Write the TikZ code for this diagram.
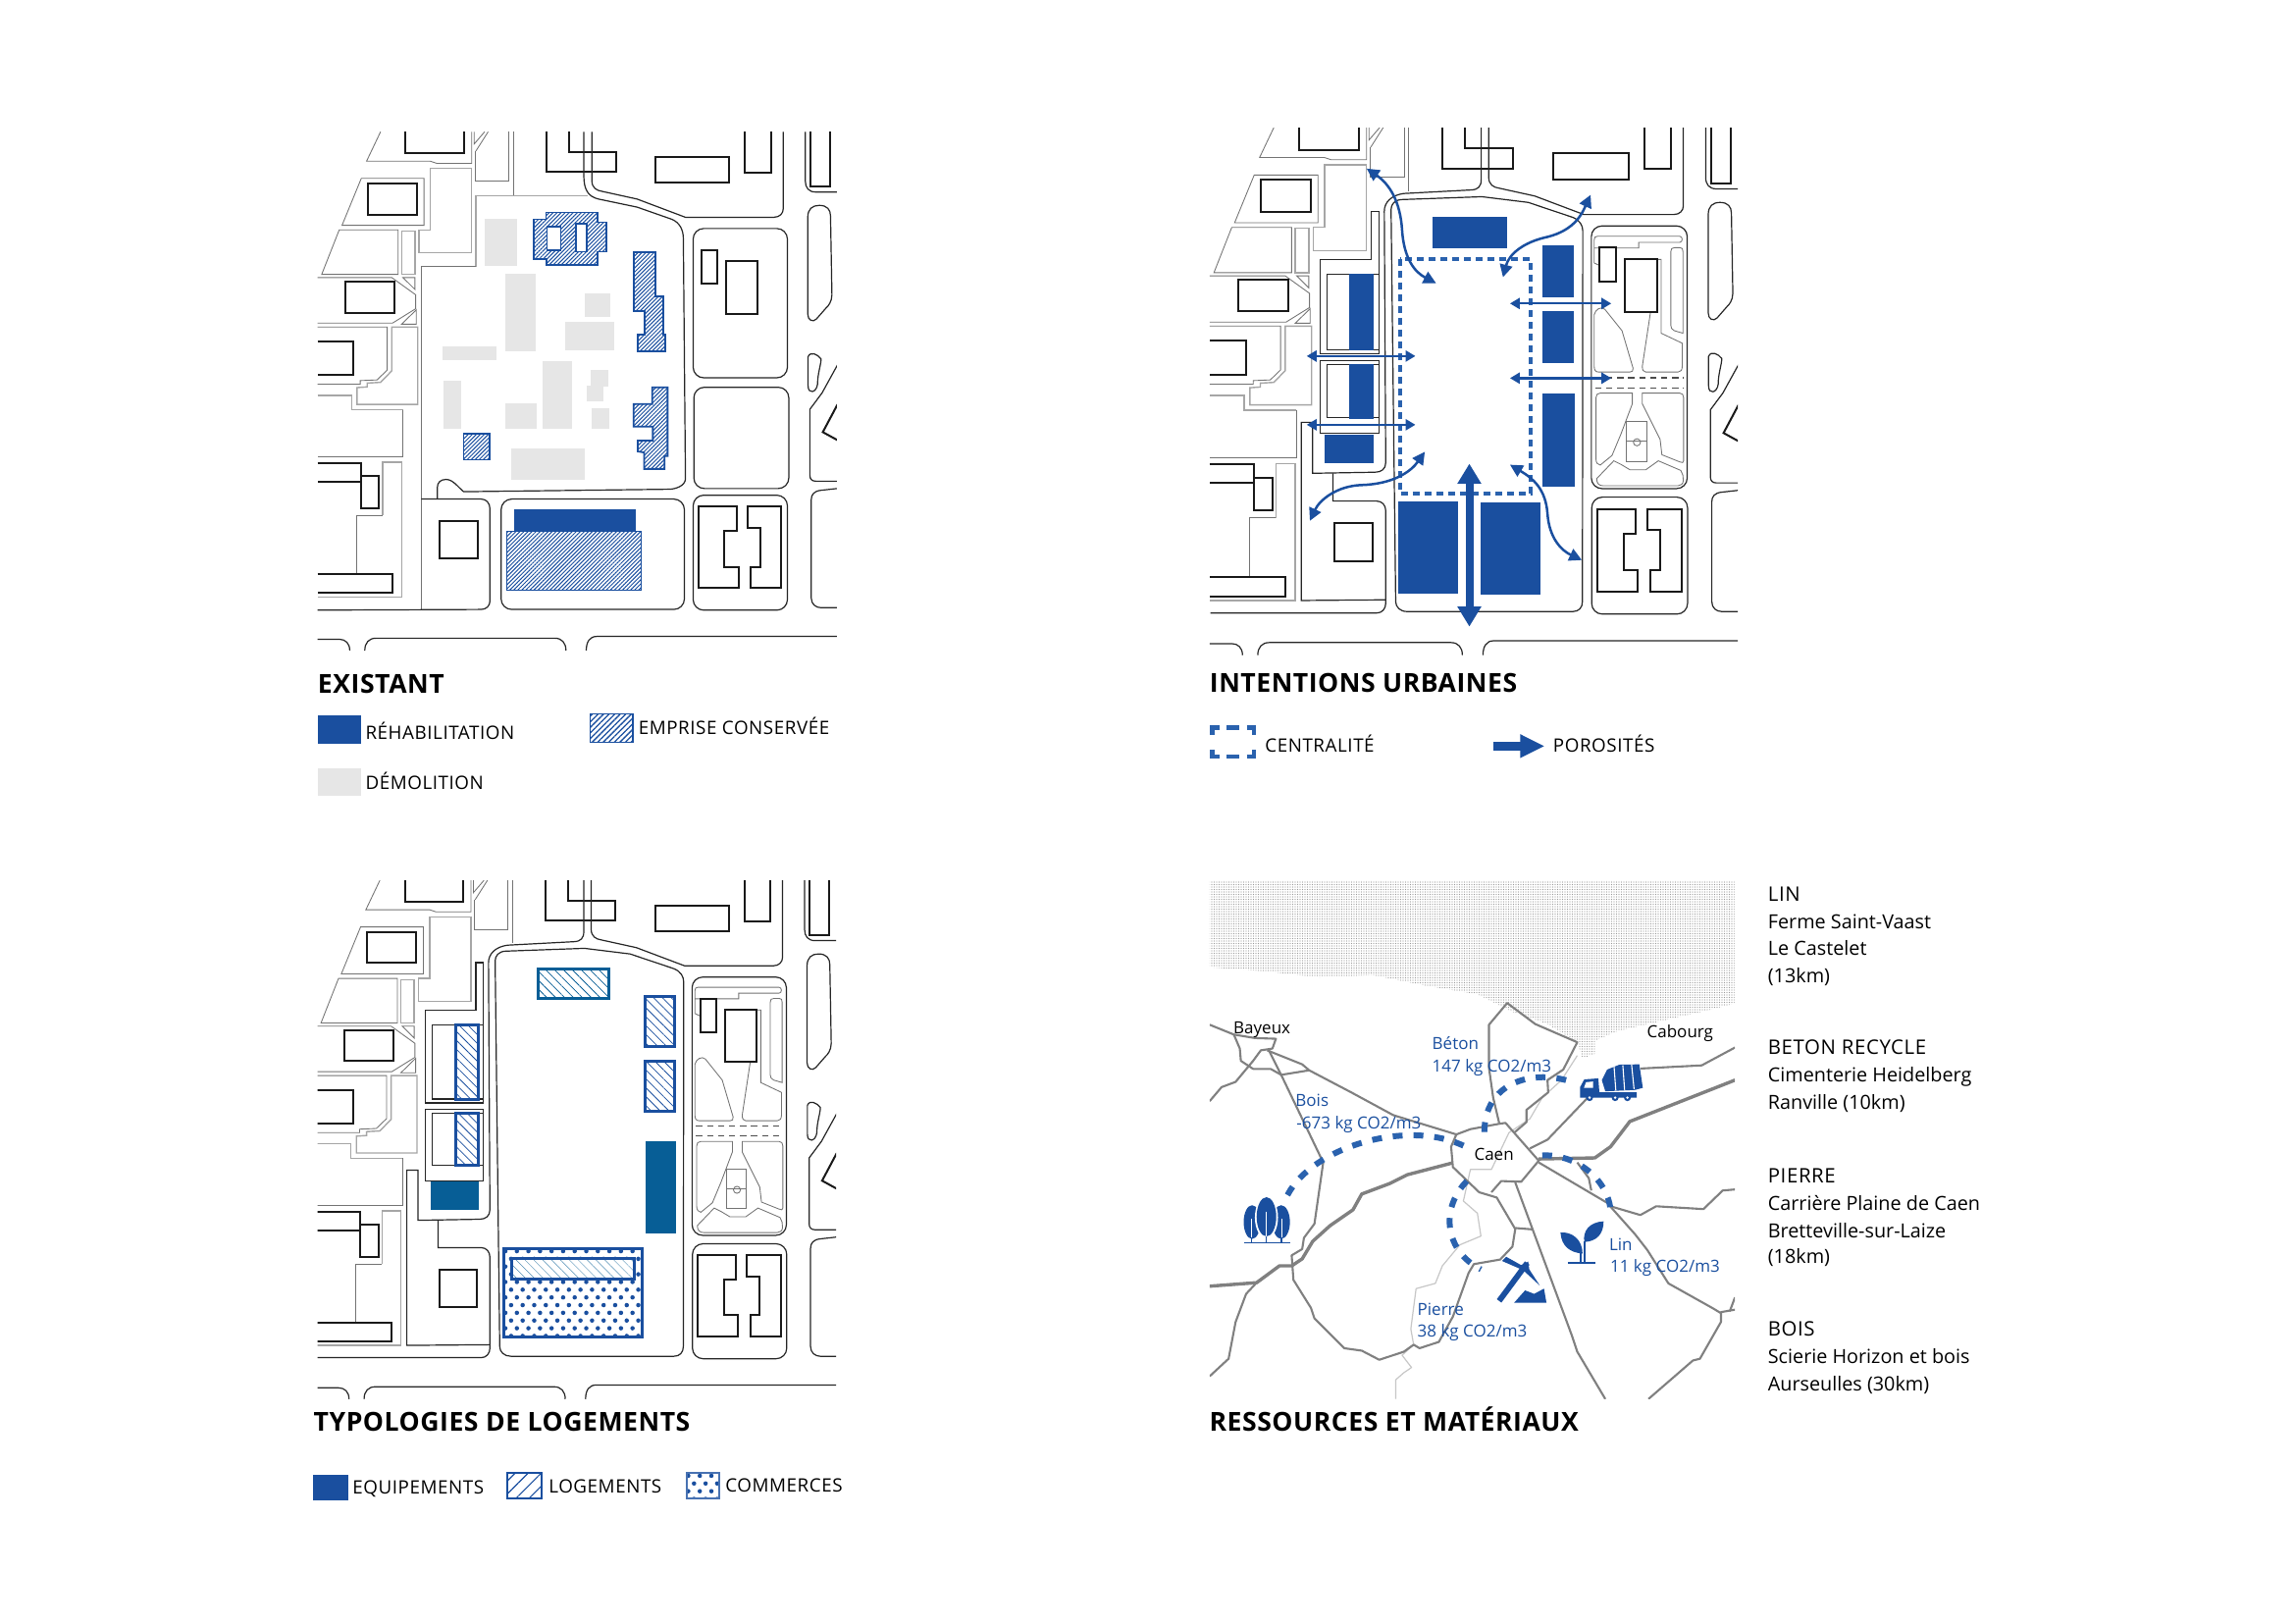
\documentclass[tikz,border=0pt]{standalone}
\usepackage{fontspec}
\usetikzlibrary{arrows.meta,patterns.meta}
\setmainfont{Open Sans}
\newfontfamily\capsfont[LetterSpace=3]{Open Sans}
\newfontfamily\headfont[LetterSpace=2]{Open Sans}
\definecolor{bleu}{HTML}{1A4F9F}
\definecolor{bleub}{HTML}{2A62AE}
\definecolor{sarc}{HTML}{075E96}
\definecolor{demo}{HTML}{E6E6E6}
\definecolor{rte}{HTML}{808080}
\tikzset{
 zoomunit/.style={x=0.17857pt,y=-0.17857pt},
 bld/.style={draw=black!90,line width=1pt,line join=miter},
 rd/.style={draw=black!85,line width=.6pt},
 gt/.style={draw=black!55,line width=.43pt},
 gl/.style={draw=black!35,line width=.7pt},
 demorect/.style={fill=demo,draw=none},
 hatchf/.style={draw=bleu,line width=.9pt,pattern={Lines[angle=45,distance=1.45pt,line width=.5pt]},pattern color=bleu},
 hatchw/.style={draw=bleu,line width=1.5pt,pattern={Lines[angle=-45,distance=3.2pt,line width=.38pt]},pattern color=bleu},
 solidb/.style={fill=bleu,draw=none},
 solids/.style={fill=sarc,draw=none},
 heading/.style={anchor=base west,inner sep=0pt,font=\headfont\bfseries\fontsize{13.3}{14}\selectfont,text=black},
 leg/.style={anchor=base west,inner sep=0pt,font=\capsfont\fontsize{9.4}{11}\selectfont,text=black},
 infot/.style={anchor=base west,inner sep=0pt,font=\fontsize{9.9}{12}\selectfont,text=black},
 infoc/.style={anchor=base west,inner sep=0pt,font=\capsfont\fontsize{10.2}{12}\selectfont,text=black},
 mapl/.style={anchor=base west,inner sep=0pt,font=\fontsize{8.5}{10}\selectfont,text=black},
 mapb/.style={anchor=base west,inner sep=0pt,font=\fontsize{8.5}{10}\selectfont,text=bleu},
 thinarr/.style={draw=bleu,line width=1.15pt,{Triangle[length=5pt,width=5.6pt]}-{Triangle[length=5pt,width=5.6pt]}},
 curvarr/.style={draw=bleu,line width=1.25pt,{Triangle[length=6.4pt,width=6.4pt]}-{Triangle[length=6.4pt,width=6.4pt]}},
 road/.style={draw=rte,line width=1.05pt,line join=round},
 roadb/.style={draw=rte,line width=1.7pt,line join=round},
 river/.style={draw=black!22,line width=.6pt,line join=round},
 resdash/.style={draw=bleub,line width=3pt,dash pattern=on 5pt off 5.6pt},
}
% ---- staggered dots inside a rectangle: x1 y1 x2 y2 (zoom units)
\newcommand{\dotfield}[4]{%
 \begin{scope}
 \clip (#1,#2) rectangle (#3,#4);
 \foreach \rw in {0,...,14}{%
  \foreach \cl in {0,...,14}{%
   \pgfmathsetmacro{\dx}{#1+4+33*\cl+16.5*mod(\rw,2)}%
   \pgfmathsetmacro{\dy}{#2+8+22*\rw}%
   \fill[bleu] (\dx,\dy) circle [radius=6.3];
  }%
 }
 \end{scope}
}
% ---- parts shared by the three plans, in the coordinates of the first plan
\newcommand{\mapcommon}{%
 \draw[gt] (218,40)--(178,124)--(360,124)--(378,130)--(478,130)--(478,40);
 \draw[gt] (485,40)--(485,75)--(515,40);
 \draw[gt] (490,95)--(525,40);
 \draw[gt] (488,95)--(488,180)--(584,180)--(584,40);
 \draw[gt] (597,40)--(597,220);
 \draw[gl] (360,145)--(478,145)--(478,385)--(328,385)--(328,320)--(360,320)--cycle;
 \draw[gt] (163,173)--(342,173)--(342,307)--(108,307)--cycle;
 \draw[gt] (100,320)--(268,320)--(268,447)--(50,447)--cycle;
 \draw[gl] (278,323) rectangle (316,447);
 \draw[gt] (38,456)--(250,456)--(318,505)--(318,545)--(252,586)--(38,586);
 \draw[gt] (282,456)--(316,456)--(316,490)--cycle;
 \draw[gt] (278,589)--(320,589)--(320,548)--cycle;
 \draw[gt] (38,597)--(237,597)--(237,720)--(208,748)--(160,750)--(160,760)--(38,760);
 \draw[gl] (250,597)--(324,597)--(324,818)--(151,818)--(151,770)--(180,768)--(180,757)--(218,755)--(250,722)--cycle;
 \draw[gl] (38,792)--(135,792)--(135,833)--(282,833);
 \draw[gt] (282,833)--(282,967)--(38,967);
 \draw[gl] (224,1135)--(224,983)--(278,983)--(278,1367)--(38,1367);
 \draw[gt] (224,1135)--(149,1135)--(149,1301);
 \draw[bld] (289,40)--(289,102)--(456,102)--(456,40);
 \draw[bld] (755,40)--(755,98)--(890,98)--(890,155)--(692,155)--(692,40);
 \draw[bld] (1003,112) rectangle (1213,185);
 \draw[bld] (1258,40)--(1258,156)--(1333,156)--(1333,40);
 \draw[bld] (1445,40)--(1445,197)--(1500,197)--(1500,40);
 \draw[bld] (181,187) rectangle (322,276);
 \draw[bld] (117,467) rectangle (258,556);
 \draw[bld] (38,638)--(141,638)--(141,734)--(38,734);
 \draw[bld] (38,985)--(162,985)--(162,1038)--(38,1038);
 \draw[bld] (162,1022) rectangle (214,1114);
 \draw[bld] (38,1301)--(251,1301)--(251,1355)--(38,1355);
 \draw[bld] (387,1150) rectangle (496,1257);
 \draw[bld] (1126,1110)--(1234,1110)--(1234,1180)--(1199,1180)--(1199,1281)--(1240,1281)--(1240,1342)--(1126,1342)--cycle;
 \draw[bld] (1265,1110)--(1362,1110)--(1362,1342)--(1275,1342)--(1275,1281)--(1301,1281)--(1301,1170)--(1265,1170)--cycle;
 \draw[bld] (1522,818)--(1480,897)--(1522,920);
 \draw[rd] (821,40)--(821,180) .. controls (821,200) and (835,208) .. (850,210)--(950,232)--(1088,284)--(1340,284) .. controls (1358,284) and (1367,272) .. (1367,260)--(1367,40);
 \draw[rd,rounded corners=5.4pt] (1110,1077) rectangle (1379,1405);
 \draw[rd] (38,1488)--(100,1488) .. controls (118,1488) and (130,1500) .. (130,1520);
 \draw[rd] (173,1520) .. controls (173,1498) and (185,1485) .. (205,1485)--(715,1485) .. controls (735,1485) and (747,1498) .. (747,1520);
 \draw[rd] (805,1520) .. controls (805,1495) and (815,1480) .. (835,1480)--(1520,1480);
 \draw[rd] (1430,40)--(1430,180) .. controls (1430,200) and (1440,212) .. (1460,212)--(1520,212);
 \draw[rd] (1437,285) .. controls (1437,260) and (1450,250) .. (1470,250) .. controls (1492,250) and (1502,262) .. (1502,280)--(1506,505) .. controls (1506,525) and (1495,538) .. (1490,542)--(1462,574) .. controls (1452,585) and (1437,578) .. (1437,560)--cycle;
 \draw[rd] (1438,682) .. controls (1445,665) and (1465,675) .. (1475,688) .. controls (1475,705) and (1465,730) .. (1465,760) .. controls (1462,785) and (1438,790) .. (1438,765)--cycle;
 \draw[rd] (1522,705)--(1478,785)--(1443,832)--(1443,1020) .. controls (1443,1032) and (1450,1037) .. (1460,1037)--(1520,1037);
 \draw[rd] (1520,1058)--(1475,1063) .. controls (1455,1065) and (1447,1075) .. (1447,1090)--(1447,1370) .. controls (1447,1388) and (1460,1398) .. (1475,1398)--(1520,1398);
}
% ---- parts shared by plans 2 and 3, in the coordinates of the third plan
\newcommand{\mapalt}{%
 \draw[rd] (798,20)--(798,165) .. controls (798,185) and (790,194) .. (770,195)--(580,205) .. controls (545,210) and (526,230) .. (526,255)--(530,960) .. controls (530,978) and (518,987) .. (500,987)--(325,990)--(325,847)--(293,847)--(293,1347)--(530,1345);
 \draw[rd] (38,1382)--(505,1382) .. controls (520,1382) and (530,1370) .. (530,1355)--(530,1095) .. controls (530,1080) and (520,1068) .. (505,1068)--(382,1068)--(382,990);
 \draw[rd] (575,222)--(800,214)--(930,230)--(1055,272) .. controls (1075,280) and (1083,295) .. (1083,310)--(1082,1350) .. controls (1082,1367) and (1072,1378) .. (1055,1378)--(590,1378) .. controls (570,1378) and (558,1365) .. (558,1350)--(545,250) .. controls (545,235) and (555,223) .. (575,222);
 \draw[rd] (511,255)--(490,255)--(490,390)--(346,390)--(346,655)--(511,655)--cycle;
 \draw[rd] (346,673) rectangle (511,877);
 \draw[rd] (511,432)--(365,432)--(365,644)--(511,644);
 \draw[rd] (511,685)--(365,685)--(365,834)--(511,834);
 \draw[rd,rounded corners=5.4pt] (1107,296) rectangle (1376,1033);
 \draw[gt] (1115,400)--(1115,335) .. controls (1115,328) and (1118,325) .. (1124,325)--(1355,325) .. controls (1364,325) and (1364,342) .. (1355,342)--(1240,342)--(1240,358)--(1115,358);
 \draw[gt] (1115,400)--(1130,407);
 \draw[gt] (1291,390)--(1303,390)--(1303,597)--(1362,625)--(1362,690) .. controls (1362,700) and (1358,706) .. (1350,706)--(1260,706) .. controls (1253,706) and (1250,700) .. (1250,690)--(1273,538);
 \draw[gt] (1330,368) .. controls (1330,360) and (1333,357) .. (1340,357)--(1356,357) .. controls (1362,357) and (1364,360) .. (1364,368)--(1364,597)--(1340,590) .. controls (1333,587) and (1330,582) .. (1330,575)--cycle;
 \draw[gt] (1115,545) .. controls (1118,530) and (1135,520) .. (1145,530)--(1193,590)--(1224,695) .. controls (1225,703) and (1222,706) .. (1215,706)--(1128,706) .. controls (1118,706) and (1115,700) .. (1115,690)--cycle;
 \draw[draw=black!70,line width=.55pt,dash pattern=on 3.2pt off 2.4pt] (1118,722)--(1365,722);
 \draw[draw=black!70,line width=.55pt,dash pattern=on 3.2pt off 2.4pt] (1118,750)--(1365,750);
 \draw[gt] (1120,778) .. controls (1120,770) and (1124,765) .. (1132,765)--(1222,765)--(1222,795)--(1190,880)--(1165,940)--(1132,967) .. controls (1125,967) and (1120,960) .. (1120,950)--cycle;
 \draw[gt] (1250,765)--(1355,765) .. controls (1362,765) and (1366,770) .. (1366,778)--(1366,955) .. controls (1366,960) and (1362,962) .. (1355,958)--(1305,938)--(1300,895)--(1250,795)--cycle;
 \draw[gt] (1122,1005)--(1170,955)--(1190,965)--(1215,980)--(1260,980)--(1295,955)--(1358,982) .. controls (1364,990) and (1365,1000) .. (1365,1010) .. controls (1365,1020) and (1358,1025) .. (1350,1025)--(1140,1025) .. controls (1128,1025) and (1122,1018) .. (1122,1005)--cycle;
 \draw[gt] (1205,845) rectangle (1262,957);
 \draw[gt] (1205,900)--(1262,900);
 \draw[gt] (1235,903) circle [radius=10];
 \draw[bld] (1130,357) rectangle (1175,453);
 \draw[bld] (1200,389) rectangle (1291,538);
}
\begin{document}
\begin{tikzpicture}[x=0.5pt,y=-0.5pt]
\useasboundingbox (0,0) rectangle (2339,1654);
\fill[white] (0,0) rectangle (2339,1654);

%%%%%%%%%%%%%%% PLAN 1 : EXISTANT
\begin{scope}[shift={(310,120)},zoomunit]
 \clip (38,40) rectangle (1520,1520);
 \mapcommon
 \draw[gl] (490,425)--(490,222)--(810,222);
 \draw[gt] (490,425)--(334,425)--(334,1403);
 \draw[rd] (798,40)--(798,165) .. controls (798,205) and (810,225) .. (840,232)--(950,255)--(1050,290) .. controls (1072,300) and (1082,320) .. (1082,345)--(1088,1030) .. controls (1088,1050) and (1060,1060) .. (1040,1060)--(455,1067) .. controls (440,1055) and (425,1032) .. (405,1032) .. controls (390,1032) and (380,1040) .. (380,1055)--(380,1087);
 \draw[rd] (38,1405)--(505,1403) .. controls (520,1403) and (530,1392) .. (530,1380)--(530,1115) .. controls (530,1100) and (520,1088) .. (505,1088)--(334,1088);
 \draw[rd,rounded corners=5.4pt] (562,1088) rectangle (1085,1403);
 \draw[rd,rounded corners=5.4pt] (1110,316) rectangle (1379,742);
 \draw[rd,rounded corners=5.4pt] (1112,769) rectangle (1383,1058);
 \draw[bld] (1133,378) rectangle (1179,473);
 \draw[bld] (1203,409) rectangle (1293,559);
 \fill[demorect] (515,288) rectangle (607,423);
 \fill[demorect] (573,446) rectangle (661,666);
 \fill[demorect] (395,652) rectangle (550,692);
 \fill[demorect] (801,500) rectangle (874,568);
 \fill[demorect] (745,583) rectangle (884,663);
 \fill[demorect] (398,751) rectangle (448,887);
 \fill[demorect] (575,815) rectangle (664,887);
 \fill[demorect] (681,694) rectangle (765,887);
 \fill[demorect] (818,720) rectangle (867,768);
 \fill[demorect] (807,765) rectangle (855,808);
 \fill[demorect] (820,830) rectangle (870,887);
 \fill[demorect] (591,944) rectangle (801,1034);
 \path[hatchf] (655,290)--(690,290)--(690,270)--(837,270)--(837,298)--(862,298)--(862,382)--(837,382)--(837,421)--(692,421)--(692,403)--(655,403)--cycle;
 \path[draw=bleu,line width=.9pt,fill=white] (693,310) rectangle (732,378);
 \path[draw=bleu,line width=.9pt,fill=white] (775,303) rectangle (807,382);
 \path[hatchf] (940,384)--(1002,384)--(1002,510)--(1025,510)--(1025,618)--(1031,618)--(1031,667)--(952,667)--(952,618)--(972,618)--(972,552)--(940,552)--cycle;
 \path[hatchf] (993,769)--(1037,769)--(1037,965)--(1028,965)--(1028,1002)--(970,1002)--(970,955)--(952,952)--(952,921)--(995,921)--(995,881)--(940,881)--(940,817)--(993,817)--cycle;
 \path[hatchf] (455,901) rectangle (529,976);
 \fill[solidb] (598,1118) rectangle (945,1180);
 \path[hatchf,line width=.65pt] (579,1180) rectangle (961,1349);
\end{scope}

%%%%%%%%%%%%%%% PLAN 2 : INTENTIONS URBAINES
\begin{scope}[shift={(1220,120)},zoomunit]
 \begin{scope}
 \clip (36,28) rectangle (1543,1533);
 \begin{scope}[shift={(-0.6,7.7)},x=0.1816pt,y=-0.1816pt]
  \begin{scope}[shift={(-2,-20)}]\mapcommon\end{scope}
  \mapalt
 \end{scope}
 \end{scope}
 \fill[solidb] (672,283) rectangle (886,372);
 \fill[solidb] (986,364) rectangle (1075,512);
 \fill[solidb] (986,552) rectangle (1075,701);
 \fill[solidb] (986,787) rectangle (1077,1053);
 \fill[solidb] (434,445) rectangle (505,664);
 \fill[solidb] (434,704) rectangle (505,860);
 \fill[solidb] (363,903) rectangle (505,985);
 \fill[solidb] (574,1095) rectangle (745,1358);
 \fill[solidb] (809,1098) rectangle (980,1361);
 \draw[draw=bleub,line width=2.2pt,dash pattern=on 3.4pt off 2.6pt] (579,403) rectangle (952,1072);
 \coordinate (hA1) at (313,680); \coordinate (hA2) at (623,680);
 \coordinate (hB1) at (313,876); \coordinate (hB2) at (623,876);
 \coordinate (hC1) at (893,530); \coordinate (hC2) at (1182,530);
 \coordinate (hD1) at (893,743); \coordinate (hD2) at (1182,743);
 \draw[thinarr] (hA1)--(hA2);
 \draw[thinarr] (hB1)--(hB2);
 \draw[thinarr] (hC1)--(hC2);
 \draw[thinarr] (hD1)--(hD2);
 \coordinate (vA1) at (777,987); \coordinate (vA2) at (777,1452);
 \draw[draw=bleu,line width=4pt,{Triangle[length=10.2pt,width=11.5pt]}-{Triangle[length=10.2pt,width=11.5pt]}] (vA1)--(vA2);
 \coordinate (cA1) at (484,145); \coordinate (cA2) at (682,472);
 \coordinate (cB1) at (1123,220); \coordinate (cB2) at (873,455);
 \coordinate (cC1) at (650,953); \coordinate (cC2) at (322,1150);
 \coordinate (cD1) at (893,990); \coordinate (cD2) at (1098,1262);
 \draw[curvarr] (cA1) .. controls (550,190) and (580,240) .. (585,320) .. controls (590,400) and (620,440) .. (cA2);
 \draw[curvarr] (cB1) .. controls (1100,270) and (1080,320) .. (1000,340) .. controls (930,355) and (890,390) .. (cB2);
 \draw[curvarr] (cC1) .. controls (610,1010) and (560,1045) .. (470,1048) .. controls (400,1050) and (350,1090) .. (cC2);
 \draw[curvarr] (cD1) .. controls (960,1030) and (995,1060) .. (1000,1130) .. controls (1005,1200) and (1040,1235) .. (cD2);
\end{scope}

%%%%%%%%%%%%%%% PLAN 3 : TYPOLOGIES
\begin{scope}[shift={(310,890)},zoomunit]
 \begin{scope}
 \clip (38,20) rectangle (1518,1500);
 \begin{scope}[shift={(-2,-20)}]\mapcommon\end{scope}
 \mapalt
 \end{scope}
 \path[hatchw,draw=sarc,pattern color=sarc] (667,273) rectangle (870,357);
 \path[hatchw] (973,352) rectangle (1057,493);
 \path[hatchw] (973,535) rectangle (1057,680);
 \path[hatchw] (432,432) rectangle (496,644);
 \path[hatchw] (432,685) rectangle (496,834);
 \fill[solids] (973,765) rectangle (1060,1027);
 \fill[solids] (360,880) rectangle (498,960);
 \dotfield{570}{1070}{965}{1323}
 \draw[draw=bleu,line width=1.6pt] (570,1070) rectangle (965,1323);
 \path[fill=white] (593,1098) rectangle (942,1157);
 \path[draw=bleu,line width=1.6pt,pattern={Lines[angle=-45,distance=3.2pt,line width=.22pt]},pattern color=sarc!70] (593,1098) rectangle (942,1157);
\end{scope}

%%%%%%%%%%%%%%% PLAN 4 : RESSOURCES
\begin{scope}[shift={(1220,890)},zoomunit]
 \path[pattern={Dots[distance=1.25pt,radius=.33pt]},pattern color=black!40] (36,20)--(1533,20)--(1533,372)--(1440,395)--(1330,420)--(1200,450)--(1135,478)--(1135,515)--(1100,528)--(1085,482)--(1000,430)--(900,395)--(800,345)--(650,320)--(500,290)--(350,297)--(200,280)--(36,268)--cycle;
 \begin{scope}
 \clip (36,20) rectangle (1535,1500);
 \draw[river] (1085,520)--(1040,590)--(985,640)--(950,700)--(890,740)--(840,845)--(780,845)--(760,935)--(800,970)--(810,1035)--(750,1060)--(700,1120)--(680,1170)--(625,1185)--(610,1300)--(618,1345)--(585,1375)--(612,1410)--(590,1425)--(567,1445)--(567,1500);
 \draw[road] (36,432)--(105,460)--(122,500)--(125,535)--(160,558)--(210,558)--(240,575)--(320,562);
 \draw[road] (105,460)--(165,470)--(225,472)--(215,500)--(182,505)--(160,535)--(110,595)--(70,610)--(36,650);
 \draw[road] (200,505)--(300,545)--(320,562)--(440,625)--(560,690)--(740,745);
 \draw[road] (205,505)--(240,575)--(360,825)--(335,1000)--(305,1040)--(300,1072)--(270,1090)--(275,1160)--(325,1240)--(335,1270)--(420,1355)--(470,1362)--(520,1388)--(590,1365)--(618,1345)--(635,1355)--(690,1337)--(730,1265)--(775,1140)--(790,1115)--(865,1102)--(900,1065)--(908,1015)--(855,925)--(805,910)--(730,838)--(725,780)--(740,745)--(780,730)--(860,715)--(880,712)--(975,820)--(925,880)--(868,878)--(840,910);
 \draw[road] (908,882)--(1070,1320)--(1085,1365)--(1165,1500);
 \draw[road] (908,1012)--(958,1016);
 \draw[road] (1288,1500)--(1415,1390)--(1435,1385)--(1495,1280)--(1495,1252)--(1535,1245);
 \draw[road] (1520,1250)--(1535,1210);
 \draw[road] (975,825)--(1170,940)--(1250,1030)--(1285,1075)--(1345,1170)--(1470,1240)--(1495,1255);
 \draw[road] (1180,950)--(1265,975)--(1310,950)--(1445,958)--(1500,905)--(1535,902);
 \draw[roadb] (975,815)--(1135,812)--(1180,780)--(1235,708)--(1535,590);
 \draw[road] (950,785)--(1000,760)--(1115,640);
 \draw[road] (1265,557)--(1440,548)--(1535,497);
 \draw[road] (905,740)--(940,710)--(940,675)--(1002,625)--(1000,590)--(1045,560)--(1085,482)--(965,430)--(885,370)--(833,432)--(833,555)--(845,640)--(862,712);
 \draw[road] (1125,905)--(1118,870)--(1085,825);
 \draw[roadb] (730,826)--(600,860)--(550,885)--(470,915)--(445,960)--(380,1005)--(330,1050)--(300,1100)--(270,1120)--(235,1120)--(170,1168)--(36,1178);
 \draw[road] (170,1168)--(140,1200)--(110,1280)--(90,1385)--(36,1435);
 \end{scope}
 \coordinate (bA) at (258,918); \coordinate (bB) at (762,778);
 \coordinate (tA) at (820,738); \coordinate (tB) at (1060,592);
 \coordinate (lA) at (985,805); \coordinate (lB) at (1180,960);
 \coordinate (pA) at (770,878); \coordinate (pB) at (810,1130);
 \draw[resdash] (bA) .. controls (330,780) and (600,700) .. (bB);
 \draw[resdash] (tA) .. controls (820,600) and (950,560) .. (tB);
 \draw[resdash] (lA) .. controls (1080,800) and (1170,870) .. (lB);
 \draw[resdash] (pA) .. controls (690,960) and (710,1080) .. (pB);
 % trees
 \fill[bleu] (157,995) ellipse [x radius=24,y radius=48];
 \fill[bleu] (240,995) ellipse [x radius=25,y radius=48];
 \fill[white] (198,982) ellipse [x radius=33,y radius=60];
 \fill[bleu] (198,980) ellipse [x radius=28,y radius=56];
 \draw[bleu,line width=.65pt] (133,1054)--(265,1054);
 \draw[bleu,line width=.65pt] (155,1040)--(155,1054);
 \draw[bleu,line width=.65pt] (198,1035)--(198,1054);
 \draw[bleu,line width=.65pt] (241,1040)--(241,1054);
 \draw[white,line width=.43pt] (155,985)--(155,1040);
 \draw[white,line width=.43pt] (198,965)--(198,1035);
 \draw[white,line width=.43pt] (241,985)--(241,1040);
 % truck
 \fill[bleu] (1093,638)--(1093,610)--(1105,588)--(1145,585)--(1148,625)--(1255,625)--(1255,640)--(1093,640)--cycle;
 \fill[bleu] (1155,590)--(1170,560)--(1205,546)--(1262,545)--(1272,612)--(1250,618)--(1165,622)--cycle;
 \fill[white] (1110,596)--(1130,594)--(1130,612)--(1104,612)--cycle;
 \draw[white,line width=.55pt] (1190,552)--(1195,620);
 \draw[white,line width=.55pt] (1215,548)--(1220,618);
 \draw[white,line width=.55pt] (1240,546)--(1247,616);
 \foreach \wx in {1120,1193,1228}{\fill[bleu] (\wx,640) circle [radius=10];\fill[white] (\wx,640) circle [radius=4];}
 % pick
 \draw[bleu,line width=2.9pt] (862,1220)--(942,1112);
 \fill[bleu] (870,1106)--(882,1094)--(925,1118)--(945,1108)--(948,1130)--(978,1176)--(930,1132)--cycle;
 \fill[bleu] (905,1225)--(936,1190)--(962,1200)--(990,1185)--(997,1225)--cycle;
 % sprout
 \draw[bleu,line width=.75pt] (1058,1112)--(1138,1112);
 \draw[bleu,line width=1.05pt] (1094,1112)--(1094,1070);
 \draw[bleu,line width=1.05pt] (1106,1112)--(1106,1050);
 \fill[bleu] (1037,1025) .. controls (1070,1022) and (1100,1045) .. (1100,1085) .. controls (1065,1082) and (1040,1065) .. (1037,1025)--cycle;
 \fill[bleu] (1160,993) .. controls (1120,995) and (1100,1020) .. (1105,1052) .. controls (1140,1050) and (1160,1030) .. (1160,993)--cycle;
 \node[mapl] (nBay) at (103,458) {Bayeux};
 \node[mapl] (nCae) at (790,819) {Caen};
 \node[mapl] (nCab) at (1283,468) {Cabourg};
 \node[mapb] (nBe1) at (670,502) {Béton};
 \node[mapb] (nBe2) at (670,566) {147 kg CO2/m3};
 \node[mapb] (nBo1) at (280,666) {Bois};
 \node[mapb] (nBo2) at (283,729) {-673 kg CO2/m3};
 \node[mapb] (nLi1) at (1175,1076) {Lin};
 \node[mapb] (nLi2) at (1178,1138) {11 kg CO2/m3};
 \node[mapb] (nPi1) at (628,1261) {Pierre};
 \node[mapb] (nPi2) at (628,1324) {38 kg CO2/m3};
\end{scope}

%%%%%%%%%%%%%%% TITLES AND LEGENDS
\begin{scope}[shift={(310,670)},zoomunit]
 \node[heading] (h1) at (38,101) {EXISTANT};
 \fill[bleu] (38,165) rectangle (163,246);
 \node[leg] (l1) at (174,233) {RÉHABILITATION};
 \path[draw=bleu,line width=.75pt,pattern={Lines[angle=45,distance=2pt,line width=.65pt]},pattern color=bleu] (816,161) rectangle (938,242);
 \node[leg] (l2) at (953,221) {EMPRISE CONSERVÉE};
 \fill[demo] (38,317) rectangle (163,396);
 \node[leg] (l3) at (174,377) {DÉMOLITION};
\end{scope}

\begin{scope}[shift={(1220,670)},zoomunit]
 \node[heading] (h2) at (35,99) {INTENTIONS URBAINES};
 \draw[bleub,line width=2.2pt] (43,221)--(43,200)--(63,200);
 \draw[bleub,line width=2.2pt] (84,200)--(120,200);
 \draw[bleub,line width=2.2pt] (142,200)--(163,200)--(163,221);
 \draw[bleub,line width=2.2pt] (43,263)--(43,283)--(63,283);
 \draw[bleub,line width=2.2pt] (84,283)--(120,283);
 \draw[bleub,line width=2.2pt] (142,283)--(163,283)--(163,263);
 \coordinate (poA) at (845,253); \coordinate (poB) at (992,253);
 \draw[draw=bleu,line width=4.2pt,-{Triangle[length=12.5pt,width=11.2pt]}] (poA)--(poB);
 \node[leg] (l4) at (193,271) {CENTRALITÉ};
 \node[leg] (l5) at (1015,271) {POROSITÉS};
\end{scope}

\begin{scope}[shift={(310,1420)},zoomunit]
 \node[heading] (h3) at (26,108) {TYPOLOGIES DE LOGEMENTS};
 \fill[bleu] (25,232) rectangle (127,306);
 \node[leg] (l6) at (137,286) {EQUIPEMENTS};
 \path[draw=bleu,line width=.75pt,pattern={Lines[angle=45,distance=4.7pt,line width=.55pt]},pattern color=bleu] (580,227) rectangle (677,299);
 \node[leg] (l7) at (697,283) {LOGEMENTS};
 \dotfield{1092}{227}{1184}{299}
 \draw[draw=bleu!80,line width=.75pt] (1092,227) rectangle (1184,299);
 \node[leg] (l8) at (1201,280) {COMMERCES};
\end{scope}

\begin{scope}[shift={(1220,1420)},zoomunit]
 \node[heading] (h4) at (34,108) {RESSOURCES ET MATÉRIAUX};
\end{scope}

%%%%%%%%%%%%%%% RIGHT TEXT
\begin{scope}[shift={(1780,890)},zoomunit]
 \node[infoc] (i1) at (60,80) {LIN};
 \node[infot] (i2) at (60,157) {Ferme Saint-Vaast};
 \node[infot] (i3) at (60,235) {Le Castelet};
 \node[infot] (i4) at (60,311) {(13km)};
 \node[infoc] (i5) at (60,517) {BETON RECYCLE};
 \node[infot] (i6) at (60,594) {Cimenterie Heidelberg};
 \node[infot] (i7) at (60,672) {Ranville (10km)};
 \node[infoc] (i8) at (60,884) {PIERRE};
 \node[infot] (i9) at (60,961) {Carrière Plaine de Caen};
 \node[infot] (i10) at (60,1039) {Bretteville-sur-Laize};
 \node[infot] (i11) at (60,1114) {(18km)};
 \node[infoc] (i12) at (60,1321) {BOIS};
 \node[infot] (i13) at (60,1399) {Scierie Horizon et bois};
 \node[infot] (i14) at (60,1476) {Aurseulles (30km)};
\end{scope}
\end{tikzpicture}
\end{document}
